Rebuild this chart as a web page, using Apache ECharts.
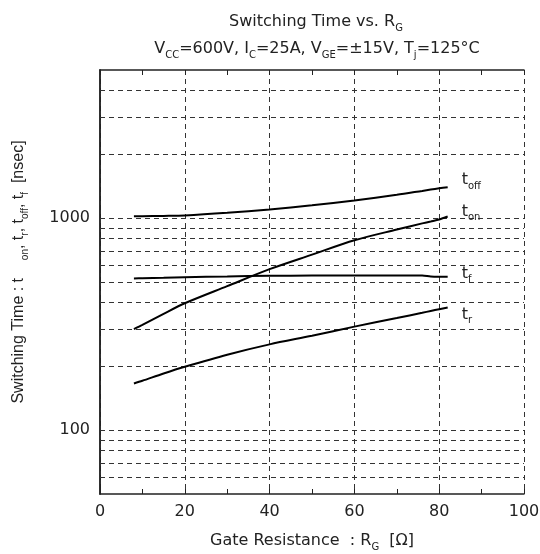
<!DOCTYPE html>
<html>
<head>
<meta charset="utf-8">
<script src="https://cdn.jsdelivr.net/npm/echarts@6/dist/echarts.min.js"></script>
<style>
html, body { margin: 0; padding: 0; background: #fff; }
#chart { width: 540px; height: 554px; }
</style>
</head>
<body>
<div id="chart"></div>
<script>
// gate resistance [ohm]
var rgX = [8, 10, 15, 20, 30, 40, 50, 60, 70, 76, 78, 80, 82];
// switching times [nsec]
var tOff = [1020, 1022, 1025, 1030, 1060, 1100, 1150, 1213, 1290, 1345, 1364, 1383, 1400];
var tOn  = [300, 314, 354, 397, 478, 575, 673, 787, 884, 945, 965, 986, 1018];
var tF   = [520, 521, 524, 527, 531, 535, 536, 536, 537, 537, 531, 530, 530];
var tR   = [166, 171, 185, 199, 227, 254, 279, 308, 338, 358, 365, 372, 379];
// horizontal dashed grid
var gridY = [60, 70, 80, 90, 100, 200, 300, 400, 500, 600, 700, 800, 900, 1000, 2000, 3000, 4000];
var xTicks = [0, 20, 40, 60, 80, 100];
var yLabels = [100, 1000];

var font = 'DejaVu Sans';
var fontNarrow = 'Liberation Sans';
var ink = '#222';
var dash = [5, 4];

function pairs(ys) {
	return rgX.map(function(x, i) { return [x, ys[i]]; });
}

function richFor(f) {
	return {
		t: { fontFamily: f, fontSize: 16, color: ink, lineHeight: 22 },
		s: { fontFamily: f, fontSize: 10, color: ink, lineHeight: 10, verticalAlign: 'bottom' }
	};
}
var subRich = richFor(font);

function curve(name, ys, sub, offset) {
	return {
		name: name,
		type: 'line',
		data: pairs(ys),
		smooth: 0.3,
		showSymbol: false,
		symbol: 'none',
		lineStyle: { color: '#000', width: 2 },
		endLabel: {
			show: true,
			formatter: '{t|t}{s|' + sub + '}',
			rich: subRich,
			distance: 14,
			offset: offset
		},
		z: 5
	};
}

var c = echarts.init(document.getElementById('chart'));
var series = [
	curve('toff', tOff, 'off', [0, -7]),
	curve('ton', tOn, 'on', [0, -5]),
	curve('tf', tF, 'f', [0, -3]),
	curve('tr', tR, 'r', [0, 7])
];
series[0].markLine = {
	silent: true,
	symbol: 'none',
	label: { show: false },
	lineStyle: { color: '#333', width: 1, type: dash },
	data: gridY.map(function(v) { return { yAxis: v }; }),
	z: 1
};

var e = {
	animation: false,
	backgroundColor: '#fff',
	title: [{
		text: '{t|Switching Time vs. R}{s|G}',
		left: 311,
		top: 6,
		textAlign: 'center',
		textStyle: { fontFamily: font, fontSize: 16, fontWeight: 'normal', color: ink, rich: subRich }
	}, {
		text: '{t|V}{s|CC}{t|=600V, I}{s|C}{t|=25A, V}{s|GE}{t|=±15V, T}{s|j}{t|=125°C}',
		left: 312,
		top: 33,
		textAlign: 'center',
		textStyle: { fontFamily: font, fontSize: 16, fontWeight: 'normal', color: ink, rich: subRich }
	}],
	grid: { left: 100, right: 16, top: 70, bottom: 60, outerBoundsMode: 'none' },
	xAxis: [{
		type: 'value',
		min: 0,
		max: 100,
		interval: 20,
		name: '{t|Gate Resistance  : R}{s|G}{t|  [Ω]}',
		nameLocation: 'middle',
		nameGap: 36,
		nameTextStyle: { fontFamily: font, fontSize: 16, color: ink, rich: subRich },
		axisLine: { show: true, lineStyle: { color: ink, width: 1.5 } },
		axisTick: { show: true, inside: true, length: 5, lineStyle: { color: ink } },
		minorTick: { show: true, splitNumber: 2, length: 5, lineStyle: { color: ink } },
		axisLabel: {
			fontFamily: font, fontSize: 16, color: ink, margin: 10,
			formatter: function(v) { return xTicks.indexOf(v) >= 0 ? String(v) : ''; }
		},
		splitLine: { show: true, lineStyle: { color: '#333', width: 1, type: dash } }
	}, {
		type: 'value',
		position: 'top',
		min: 0,
		max: 100,
		interval: 20,
		axisLine: { show: true, lineStyle: { color: ink, width: 1.5 } },
		axisTick: { show: true, inside: true, length: 5, lineStyle: { color: ink } },
		minorTick: { show: true, splitNumber: 2, length: 5, lineStyle: { color: ink } },
		axisLabel: { show: false },
		splitLine: { show: false }
	}],
	yAxis: [{
		type: 'log',
		logBase: 10,
		min: 50,
		max: 5000,
		name: '{t|Switching Time : t    }{s|on}{t|, t}{s|r}{t|, t}{s|off}{t|, t}{s|f}{t|  [nsec]}',
		nameLocation: 'middle',
		nameGap: 70,
		nameTextStyle: { fontFamily: fontNarrow, fontSize: 16, color: ink, padding: [0, 0, 0, 20], rich: richFor(fontNarrow) },
		axisLine: { show: true, lineStyle: { color: ink, width: 1.5 } },
		axisTick: { show: false },
		axisLabel: {
			fontFamily: font, fontSize: 16, color: ink, margin: 10,
			formatter: function(v) {
				var r = Math.round(v);
				return yLabels.indexOf(r) >= 0 ? String(r) : '';
			}
		},
		splitLine: { show: false }
	}, {
		type: 'log',
		logBase: 10,
		min: 50,
		max: 5000,
		position: 'right',
		axisLine: { show: true, lineStyle: { color: ink, width: 1.5 } },
		axisTick: { show: false },
		axisLabel: { show: false },
		splitLine: { show: false }
	}],
	series: series
};
c.setOption(e);
</script>
</body>
</html>
